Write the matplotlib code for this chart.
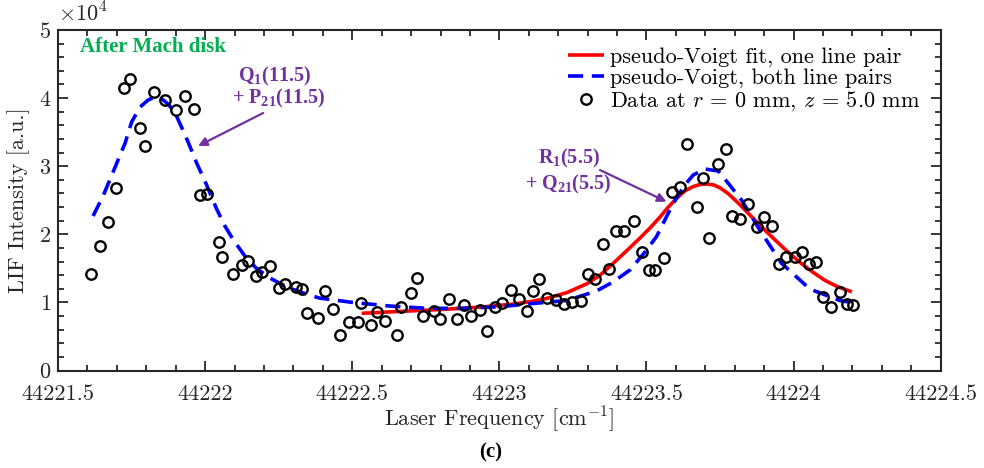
import numpy as np
import matplotlib; matplotlib.use('Agg')
import matplotlib.pyplot as plt
from matplotlib.font_manager import FontProperties
from matplotlib.ticker import FixedLocator, FixedFormatter, MultipleLocator

plt.rcParams['font.family'] = ['cmr10', 'DejaVu Serif']
plt.rcParams['axes.formatter.use_mathtext'] = True
plt.rcParams['mathtext.fontset'] = 'custom'
plt.rcParams['mathtext.rm'] = 'Liberation Serif:bold'
plt.rcParams['mathtext.it'] = 'Liberation Serif:bold:italic'
plt.rcParams['mathtext.bf'] = 'Liberation Serif:bold'

# measured LIF signal (x1e4 a.u.) vs laser frequency (cm^-1)
freq = [44221.612, 44221.643, 44221.671, 44221.697, 44221.725, 44221.745, 44221.778, 44221.796,
        44221.827, 44221.864, 44221.901, 44221.932, 44221.961, 44221.984, 44222.005, 44222.046,
        44222.058, 44222.095, 44222.124, 44222.145, 44222.172, 44222.194, 44222.220, 44222.251,
        44222.271, 44222.310, 44222.328, 44222.346, 44222.384, 44222.407, 44222.434, 44222.458,
        44222.488, 44222.518, 44222.530, 44222.564, 44222.585, 44222.612, 44222.651, 44222.667,
        44222.698, 44222.719, 44222.741, 44222.779, 44222.798, 44222.830, 44222.855, 44222.880,
        44222.903, 44222.934, 44222.957, 44222.985, 44223.010, 44223.038, 44223.065, 44223.093,
        44223.115, 44223.133, 44223.162, 44223.193, 44223.219, 44223.247, 44223.276, 44223.302,
        44223.325, 44223.352, 44223.373, 44223.398, 44223.424, 44223.457, 44223.484, 44223.509,
        44223.528, 44223.559, 44223.587, 44223.615, 44223.638, 44223.670, 44223.691, 44223.711,
        44223.742, 44223.769, 44223.790, 44223.818, 44223.846, 44223.874, 44223.901, 44223.925,
        44223.950, 44223.973, 44224.004, 44224.027, 44224.053, 44224.075, 44224.100, 44224.127,
        44224.157, 44224.180, 44224.203]
lif = [1.421, 1.824, 2.176, 2.673, 4.153, 4.280, 3.557, 3.301,
       4.094, 3.972, 3.821, 4.031, 3.844, 2.581, 2.599, 1.891,
       1.671, 1.417, 1.545, 1.608, 1.392, 1.451, 1.535, 1.207,
       1.266, 1.231, 1.197, 0.840, 0.767, 1.172, 0.910, 0.521,
       0.712, 0.712, 0.991, 0.664, 0.859, 0.722, 0.526, 0.928,
       1.138, 1.354, 0.805, 0.869, 0.761, 1.054, 0.752, 0.966,
       0.796, 0.888, 0.584, 0.937, 0.991, 1.178, 1.046, 0.869,
       1.167, 1.348, 1.060, 1.040, 0.972, 1.010, 1.021, 1.413,
       1.348, 1.865, 1.486, 2.053, 2.053, 2.195, 1.740, 1.471,
       1.471, 1.656, 2.626, 2.695, 3.326, 2.405, 2.827, 1.946,
       3.028, 3.257, 2.264, 2.220, 2.445, 2.112, 2.258, 2.122,
       1.559, 1.667, 1.671, 1.744, 1.564, 1.593, 1.079, 0.937,
       1.153, 0.972, 0.962]

# pseudo-Voigt fit, one line pair
fit1_x = [44222.532, 44222.662, 44222.798, 44222.934, 44223.046, 44223.110, 44223.162, 44223.230,
          44223.298, 44223.342, 44223.386, 44223.433, 44223.478, 44223.512, 44223.546, 44223.573,
          44223.603, 44223.630, 44223.658, 44223.681, 44223.705, 44223.729, 44223.749, 44223.777,
          44223.807, 44223.845, 44223.885, 44223.930, 44223.977, 44224.021, 44224.065, 44224.106,
          44224.147, 44224.198]
fit1_y = [0.840, 0.868, 0.895, 0.930, 0.975, 1.015, 1.060, 1.145,
          1.275, 1.400, 1.570, 1.760, 1.946, 2.093, 2.254, 2.395,
          2.530, 2.636, 2.700, 2.731, 2.739, 2.724, 2.685, 2.600,
          2.480, 2.313, 2.137, 1.946, 1.755, 1.590, 1.445, 1.325,
          1.235, 1.155]

# pseudo-Voigt, both line pairs
fit2_x = [44221.619, 44221.653, 44221.687, 44221.711, 44221.728, 44221.750, 44221.779, 44221.806,
          44221.830, 44221.853, 44221.874, 44221.898, 44221.918, 44221.942, 44221.971, 44222.005,
          44222.039, 44222.067, 44222.096, 44222.135, 44222.173, 44222.220, 44222.277, 44222.333,
          44222.387, 44222.502, 44222.628, 44222.753, 44222.877, 44223.002, 44223.115, 44223.229,
          44223.330, 44223.386, 44223.444, 44223.495, 44223.534, 44223.591, 44223.630, 44223.659,
          44223.698, 44223.744, 44223.778, 44223.823, 44223.885, 44223.959, 44224.055, 44224.157,
          44224.208]
fit2_y = [2.269, 2.562, 2.915, 3.164, 3.341, 3.649, 3.869, 3.972,
          4.016, 3.987, 3.913, 3.781, 3.590, 3.355, 3.047, 2.724,
          2.372, 2.122, 1.916, 1.681, 1.505, 1.358, 1.226, 1.138,
          1.065, 0.999, 0.947, 0.913, 0.913, 0.937, 0.984, 1.028,
          1.167, 1.300, 1.476, 1.740, 1.965, 2.455, 2.724, 2.871,
          2.959, 2.930, 2.749, 2.504, 2.063, 1.574, 1.197, 1.028,
          0.991]

xticks = [44221.5, 44222, 44222.5, 44223, 44223.5, 44224, 44224.5]
xtick_labels = ['44221.5', '44222', '44222.5', '44223', '44223.5', '44224', '44224.5']
yticks = [0, 1, 2, 3, 4, 5]

purple = '#7030a0'; green = '#00b050'; axc = '#262626'

fig = plt.figure(figsize=(9.84, 4.68), dpi=100)
ax = fig.add_axes([0.059, 0.2083, 0.897, 0.7276])

ax.plot(fit1_x, fit1_y, color='red', lw=2.6, solid_capstyle='butt', zorder=2,
        label='pseudo-Voigt fit, one line pair')
ax.plot(fit2_x, fit2_y, color='blue', lw=2.6, dashes=(4.2, 2.4), zorder=3,
        label='pseudo-Voigt, both line pairs')
ax.plot(freq, lif, 'o', ms=7.5, mfc='none', mec='black', mew=1.7, zorder=4,
        label='Data at $r$ = 0 mm, $z$ = 5.0 mm')

ax.set_xlim(44221.5, 44224.5); ax.set_ylim(0, 5)
ax.xaxis.set_major_locator(FixedLocator(xticks))
ax.xaxis.set_major_formatter(FixedFormatter(xtick_labels))
ax.xaxis.set_minor_locator(MultipleLocator(0.1))
ax.yaxis.set_major_locator(FixedLocator(yticks))
ax.yaxis.set_minor_locator(MultipleLocator(0.2))
ax.tick_params(which='both', direction='in', top=True, right=True, colors=axc, width=1.3)
ax.tick_params(which='major', length=7, labelsize=16)
ax.tick_params(axis='x', which='major', pad=10)
ax.tick_params(axis='y', which='major', pad=5)
ax.tick_params(which='minor', length=4)
for s in ax.spines.values():
    s.set_color(axc); s.set_linewidth(1.5)

ax.set_xlabel(r'Laser Frequency [cm$^{-1}$]', fontsize=16, color=axc, labelpad=0, math_fontfamily='cm')
ax.set_ylabel('LIF Intensity [a.u.]', fontsize=16, color=axc, labelpad=6)
ax.text(0.0, 1.012, r'$\times10^{4}$', transform=ax.transAxes, fontsize=16, color=axc,
        ha='left', va='bottom', math_fontfamily='cm')

ax.text(0.025, 0.95, 'After Mach disk', transform=ax.transAxes, color=green,
        fontsize=15, fontweight='bold', family='Liberation Serif', va='center', ha='left')

ann = dict(color=purple, fontsize=14.5, family='Liberation Serif', fontweight='bold', ha='center', va='center')
ax.text(44222.237, 4.32, 'Q$_1$(11.5)', **ann)
ax.text(44222.248, 3.99, '+ P$_{21}$(11.5)', **ann)
ax.text(44223.236, 3.11, 'R$_1$(5.5)', **ann)
ax.text(44223.233, 2.73, '+ Q$_{21}$(5.5)', **ann)
arw = dict(arrowstyle='-|>', color=purple, lw=1.6, mutation_scale=13, shrinkA=0, shrinkB=0)
ax.annotate('', xy=(44221.976, 3.297), xytext=(44222.197, 3.781), arrowprops=arw)
ax.annotate('', xy=(44223.568, 2.479), xytext=(44223.342, 2.944), arrowprops=arw)

leg = ax.legend(loc='upper right', bbox_to_anchor=(0.995, 0.995), frameon=False,
                prop=FontProperties(family='cmr10', size=16, math_fontfamily='cm'),
                handlelength=1.6, handletextpad=0.3, labelspacing=0.05, borderpad=0.2)

fig.text(0.499, 0.034, '(c)', fontsize=15, fontweight='bold', family='Liberation Serif',
         ha='center', va='center')

fig.savefig('out.png', dpi=100)
